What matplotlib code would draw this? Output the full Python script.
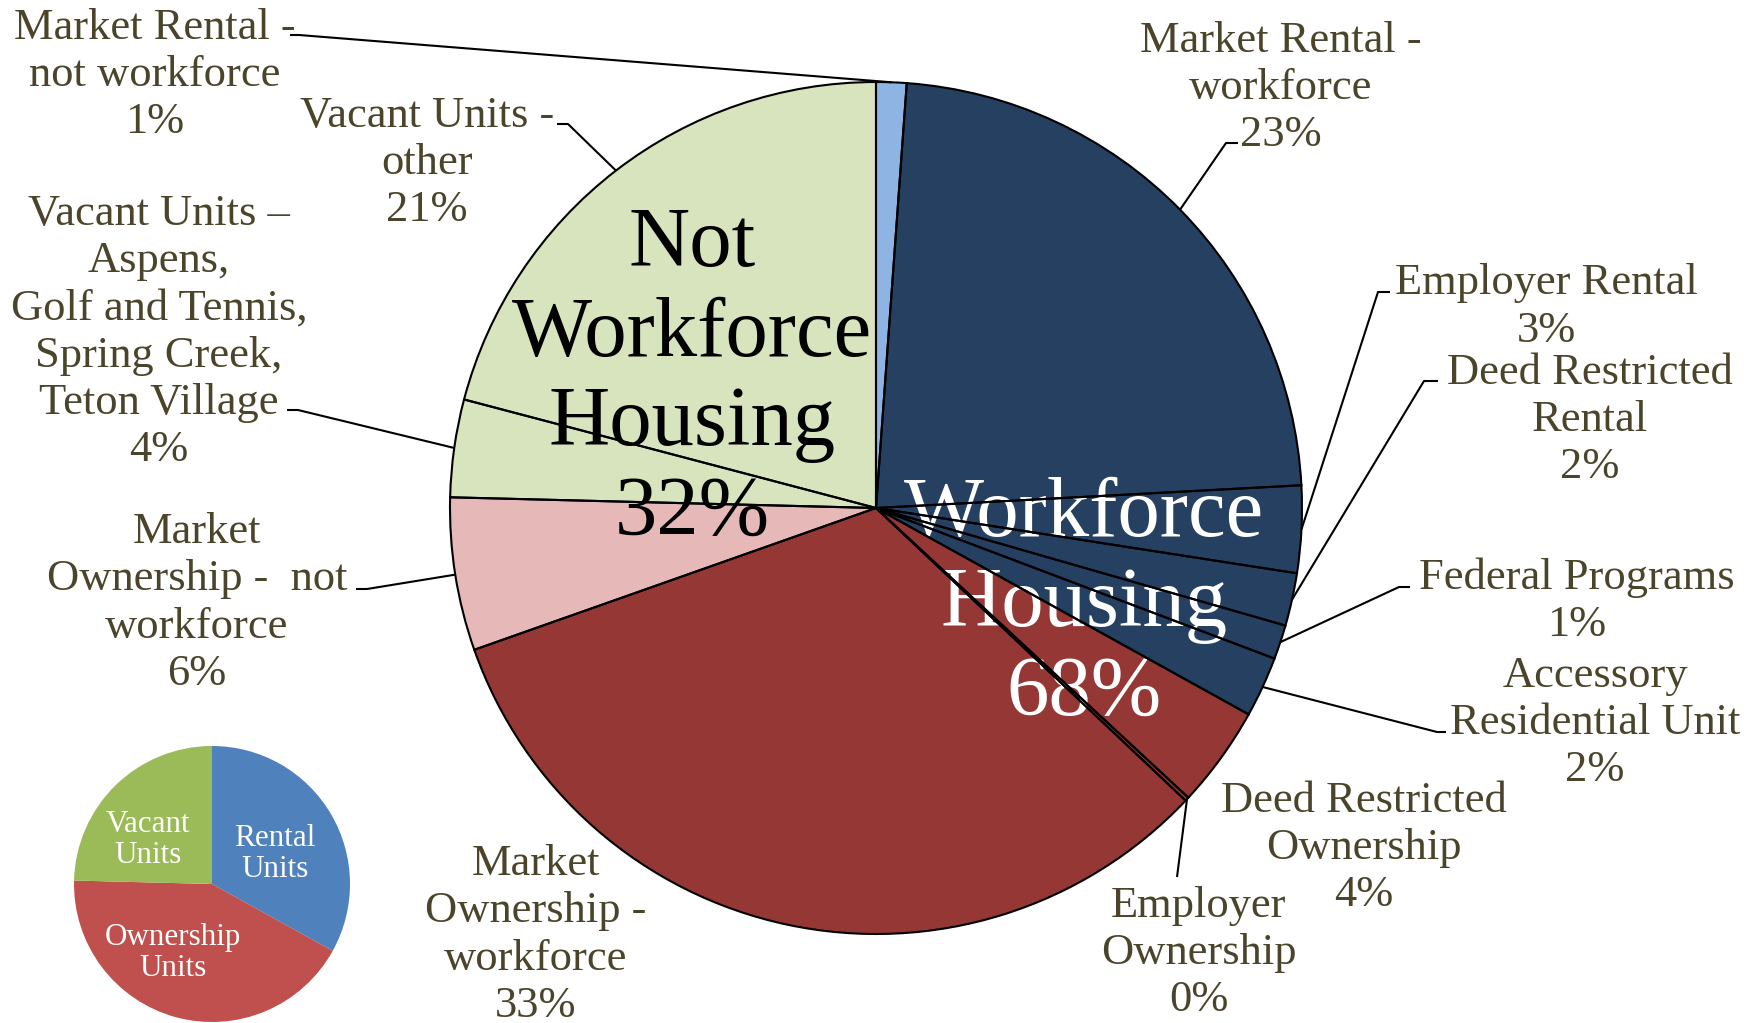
import matplotlib.pyplot as plt
import numpy as np

plt.rcParams['font.family'] = ['Liberation Serif', 'DejaVu Serif']

# Housing units by category, percent of all units
categories = [
    'Market Rental -\nnot workforce',
    'Market Rental -\nworkforce',
    'Employer Rental',
    'Deed Restricted\nRental',
    'Federal Programs',
    'Accessory\nResidential Unit',
    'Deed Restricted\nOwnership',
    'Employer\nOwnership',
    'Market\nOwnership -\nworkforce',
    'Market\nOwnership -  not\nworkforce',
    'Vacant Units –\nAspens,\nGolf and Tennis,\nSpring Creek,\nTeton Village',
    'Vacant Units -\nother',
]
shares = [1.15, 23.0, 3.3, 2.0, 1.3, 2.3, 3.85, 0.15, 32.55, 5.8, 3.7, 20.9]
is_workforce = [False, True, True, True, True, True, True, True, True, False, False, False]
tenure = ['Rental'] * 6 + ['Ownership'] * 4 + ['Vacant'] * 2

tenure_groups = ['Rental', 'Ownership', 'Vacant']
tenure_names = ['Rental\nUnits', 'Ownership\nUnits', 'Vacant\nUnits']

navy, brick = '#254061', '#953735'
slice_colors = ['#8DB4E2', navy, navy, navy, navy, navy,
                brick, brick, brick, '#E6B9B8', '#D7E4BD', '#D7E4BD']
tenure_colors = ['#4F81BD', '#C0504D', '#9BBB59']
label_color = '#4A452A'

# layout in pixels (y measured down from the top)
W, H = 1758, 1023
center, radius = (876, 508), 426
inset_center, inset_radius = (212, 884), 138
label_xy = [(155, 75), (1281, 88), (1546, 307), (1590, 420), (1577, 601), (1595, 723),
            (1364, 848), (1199, 953), (536, 935), (197, 603), (159, 332), (427, 163)]
# (elbow, end of the short horizontal stub) for each leader line
leaders = [((299, 35), (290, 35)), ((1226, 143), (1238, 143)), ((1378, 292), (1390, 292)),
           ((1424, 381), (1438, 381)), ((1399, 587), (1410, 587)), ((1437, 732), (1446, 732)),
           None, ((1177, 877), None), None, ((367, 589), (356, 589)),
           ((298, 410), (287, 410)), ((568, 124), (557, 124))]
tenure_xy = [(275, 854), (173, 953), (148, 840)]

total = sum(shares)
wf_pct = 100 * sum(v for v, f in zip(shares, is_workforce) if f) / total
nwf_pct = 100 * sum(v for v, f in zip(shares, is_workforce) if not f) / total
tenure_shares = [sum(v for v, t in zip(shares, tenure) if t == g) for g in tenure_groups]

fig = plt.figure(figsize=(W / 100, H / 100), dpi=100)
ax = fig.add_axes([0, 0, 1, 1])

# y axis points down, so a clockwise pie from 12 o'clock is startangle=-90, counterclock
wedges, _ = ax.pie(shares, colors=slice_colors, startangle=-90, counterclock=True,
                   center=center, radius=radius,
                   wedgeprops=dict(linewidth=0, zorder=1))
ax.pie(shares, startangle=-90, counterclock=True, center=center, radius=radius,
       wedgeprops=dict(fill=False, edgecolor='black', linewidth=1.5, zorder=3))

for w, name, v, xy, ld in zip(wedges, categories, shares, label_xy, leaders):
    ax.text(xy[0], xy[1], f'{name}\n{100 * v / total:.0f}%', ha='center', va='center',
            fontsize=32, color=label_color, linespacing=1.23, zorder=5)
    if ld is None:
        continue
    mid = np.deg2rad((w.theta1 + w.theta2) / 2)
    px = center[0] + radius * np.cos(mid)
    py = center[1] + radius * np.sin(mid)
    elbow, stub = ld
    xs, ys = [px, elbow[0]], [py, elbow[1]]
    if stub is not None:
        xs.append(stub[0])
        ys.append(stub[1])
    ax.plot(xs, ys, color='black', linewidth=1.5, zorder=4, solid_capstyle='butt')

ax.text(692, 380, f'Not\nWorkforce\nHousing\n{nwf_pct:.0f}%', ha='center', va='center',
        fontsize=61, color='black', linespacing=1.21, zorder=2)
ax.text(1084, 605, f'Workforce\nHousing\n{wf_pct:.0f}%', ha='center', va='center',
        fontsize=61, color='white', linespacing=1.21, zorder=2)

# small pie of units by tenure
ax.pie(tenure_shares, colors=tenure_colors, startangle=-90, counterclock=True,
       center=inset_center, radius=inset_radius, wedgeprops=dict(linewidth=0))
for name, xy in zip(tenure_names, tenure_xy):
    ax.text(xy[0], xy[1], name, ha='center', va='center', fontsize=22.4,
            color='white', linespacing=1.1)

ax.set_xlim(0, W)
ax.set_ylim(H, 0)
ax.set_aspect('equal')
ax.axis('off')
fig.savefig('out.png', dpi=100)
